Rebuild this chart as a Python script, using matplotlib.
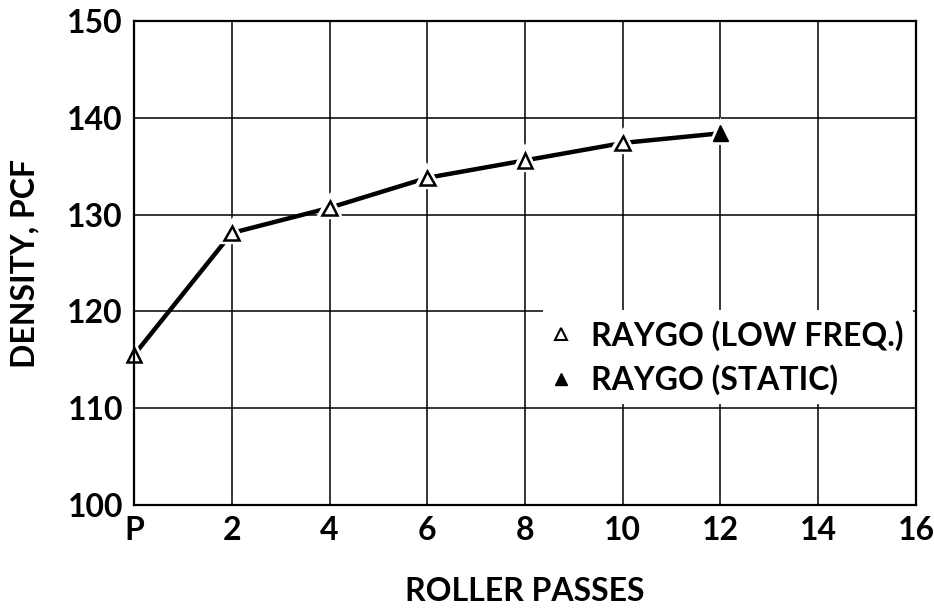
import matplotlib
matplotlib.use('Agg')
import matplotlib.pyplot as plt
import matplotlib.patheffects as pe
from matplotlib.lines import Line2D

# data
passes = [0, 2, 4, 6, 8, 10, 12]
density = [115.5, 128.1, 130.7, 133.8, 135.6, 137.4, 138.4]
open_x = passes[:-1]
open_y = density[:-1]
static_x = [12]
static_y = [138.4]

xticks = [0, 2, 4, 6, 8, 10, 12, 14, 16]
xtick_labels = ['P', '2', '4', '6', '8', '10', '12', '14', '16']
yticks = [100, 110, 120, 130, 140, 150]

plt.rcParams['font.family'] = ['Lato', 'DejaVu Sans']
plt.rcParams['font.weight'] = 'bold'

fig = plt.figure(figsize=(9.34, 6.10), dpi=100)
ax = fig.add_axes([0.1435, 0.1721, 0.8372, 0.7935])

ax.plot(passes, density, color='black', lw=3.2, solid_capstyle='butt', zorder=3, clip_on=False)
ax.plot(open_x, open_y, ls='none', marker='^', ms=10.5, mfc='white', mec='black', mew=1.8,
        zorder=4, clip_on=False,
        path_effects=[pe.Stroke(linewidth=6, foreground='white'), pe.Normal()])
ax.plot(static_x, static_y, ls='none', marker='^', ms=11.5, mfc='black', mec='black',
        zorder=4, clip_on=False,
        path_effects=[pe.Stroke(linewidth=5, foreground='white'), pe.Normal()])

ax.set_xlim(0, 16)
ax.set_ylim(100, 150)
ax.set_xticks(xticks)
ax.set_xticklabels(xtick_labels)
ax.set_yticks(yticks)
ax.tick_params(length=0, labelsize=23, pad=8)
ax.grid(True, color='black', lw=1.1)
for s in ax.spines.values():
    s.set_linewidth(1.6)
    s.set_zorder(6)

ax.set_xlabel('ROLLER PASSES', fontsize=23, fontweight='bold', labelpad=23)
ax.set_ylabel('DENSITY, PCF', fontsize=23, fontweight='bold', labelpad=20)

handles = [
    Line2D([], [], ls='none', marker='^', ms=8, mfc='white', mec='black', mew=1.5),
    Line2D([], [], ls='none', marker='^', ms=8, mfc='black', mec='black'),
]
leg = ax.legend(handles, ['RAYGO (LOW FREQ.)', 'RAYGO (STATIC)'], loc='center left',
                bbox_to_anchor=(0.503, 0.305), handlelength=0.5,
                handletextpad=0.69, labelspacing=0.42, borderpad=0.3,
                frameon=True, fancybox=False, edgecolor='none', facecolor='white',
                framealpha=1.0, prop={'weight': 'bold', 'size': 23})

fig.savefig('out.png', dpi=100)
